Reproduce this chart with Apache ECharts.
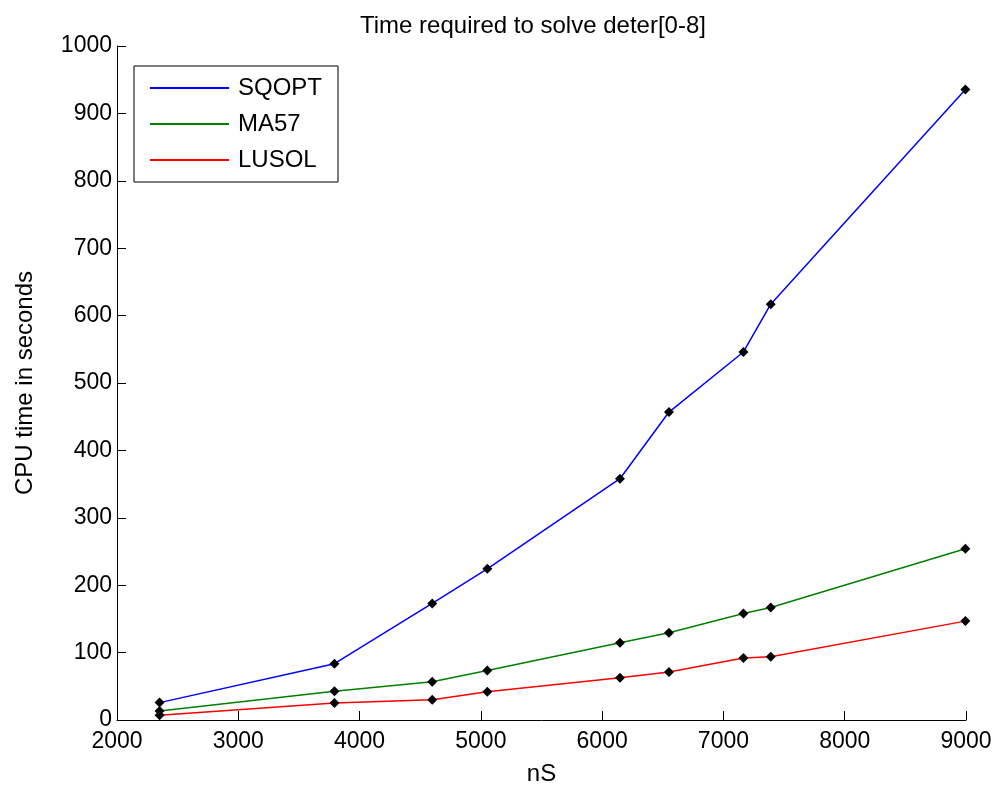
<!DOCTYPE html>
<html>
<head>
<meta charset="utf-8">
<script src="https://cdn.jsdelivr.net/npm/echarts@6/dist/echarts.min.js"></script>
<style>
html,body{margin:0;padding:0;background:#fff;}
#chart{width:997px;height:792px;}
</style>
</head>
<body>
<div id="chart"></div>
<script>
var nS = [2351, 3793, 4599, 5053, 6147, 6551, 7165, 7390, 8995];
var sqopt = [25.8, 83.6, 172.9, 224.3, 358, 456.9, 546, 617, 935.4];
var ma57 = [13.3, 42.5, 56.9, 73.6, 114.7, 129.5, 158, 167, 254];
var lusol = [7, 25.2, 30.2, 42, 62.8, 71.1, 91.9, 93.9, 146.7];
var seriesNames = ['SQOPT', 'MA57', 'LUSOL'];
var seriesColors = ['#0000ff', '#008000', '#ff0000'];
var xTicks = {min: 2000, max: 9000, interval: 1000};
var yTicks = {min: 0, max: 1000, interval: 100};

function pairs(ys) { return nS.map(function (x, i) { return [x, ys[i]]; }); }
var allData = [sqopt, ma57, lusol];

var chart = echarts.init(document.getElementById('chart'), null, {renderer: 'canvas'});
var font = '"Liberation Sans", Arial, sans-serif';
var plain = function (v) { return String(v); };
var option = {
  backgroundColor: '#ffffff',
  animation: false,
  title: {
    text: 'Time required to solve deter[0-8]',
    left: 355, top: 9,
    textStyle: {fontFamily: font, fontSize: 24, fontWeight: 'normal', color: '#000'}
  },
  legend: {
    left: 134, top: 66,
    orient: 'vertical',
    backgroundColor: '#fff',
    borderColor: '#000', borderWidth: 1,
    padding: [10, 12, 10, 16],
    itemGap: 12,
    itemWidth: 79, itemHeight: 2,
    icon: 'rect',
    textStyle: {fontFamily: font, fontSize: 24, color: '#000', width: 88, padding: [0, 0, 0, 4], lineHeight: 24},
    data: seriesNames.map(function (n, i) { return {name: n, itemStyle: {color: seriesColors[i]}}; })
  },
  grid: {left: 117, right: 31, top: 46, bottom: 72, containLabel: false},
  xAxis: {
    type: 'value', min: xTicks.min, max: xTicks.max, interval: xTicks.interval,
    name: 'nS', nameLocation: 'middle', nameGap: 42,
    nameTextStyle: {fontFamily: font, fontSize: 24, color: '#000'},
    axisLine: {show: true, lineStyle: {color: '#000', width: 1}},
    axisTick: {show: true, inside: true, length: 9, lineStyle: {color: '#000'}},
    axisLabel: {fontFamily: font, fontSize: 23, color: '#000', margin: 10, formatter: plain},
    splitLine: {show: false}
  },
  yAxis: {
    type: 'value', min: yTicks.min, max: yTicks.max, interval: yTicks.interval,
    name: 'CPU time in seconds', nameLocation: 'middle', nameGap: 80,
    nameTextStyle: {fontFamily: font, fontSize: 24, color: '#000'},
    axisLine: {show: true, lineStyle: {color: '#000', width: 1}},
    axisTick: {show: true, inside: true, length: 9, lineStyle: {color: '#000'}},
    axisLabel: {fontFamily: font, fontSize: 23, color: '#000', margin: 5, formatter: plain},
    splitLine: {show: false}
  },
  series: seriesNames.map(function (n, i) {
    return {
      name: n, type: 'line',
      data: pairs(allData[i]),
      symbol: 'diamond', symbolSize: 10, showAllSymbol: true,
      lineStyle: {color: seriesColors[i], width: 1.5},
      itemStyle: {color: '#000', borderWidth: 0},
      z: 3 - i
    };
  })
};
chart.setOption(option);
</script>
</body>
</html>
